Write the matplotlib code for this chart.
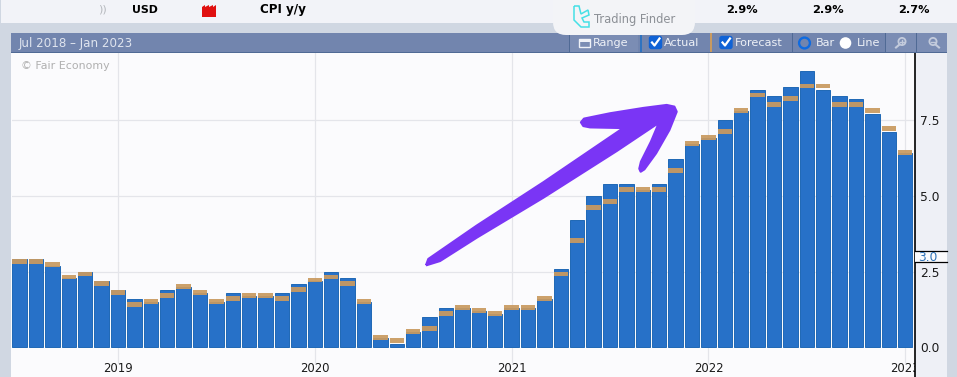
import matplotlib
matplotlib.use("Agg")
import matplotlib.pyplot as plt
from matplotlib.patches import Rectangle, PathPatch, Circle, FancyBboxPatch
from matplotlib.path import Path

W, H = 957, 377
plt.rcParams['font.family'] = ['DejaVu Sans']

# ---- data ----
date_range = "Jul 2018 – Jan 2023"
actual = [2.9, 2.9, 2.7, 2.3, 2.5, 2.2, 1.9, 1.6, 1.5, 1.9, 2.0, 1.8, 1.5, 1.8, 1.7, 1.7, 1.8, 2.1,
          2.2, 2.5, 2.3, 1.5, 0.3, 0.1, 0.5, 1.0, 1.3, 1.3, 1.2, 1.1, 1.3, 1.3, 1.6, 2.6, 4.2, 5.0,
          5.4, 5.4, 5.2, 5.4, 6.2, 6.7, 6.9, 7.5, 7.8, 8.5, 8.3, 8.6, 9.1, 8.5, 8.3, 8.2, 7.7, 7.1, 6.4]
forecast = [2.9, 2.9, 2.8, 2.4, 2.5, 2.2, 1.9, 1.5, 1.6, 1.8, 2.1, 1.9, 1.6, 1.7, 1.8, 1.8, 1.7, 2.0,
            2.3, 2.4, 2.2, 1.6, 0.4, 0.3, 0.6, 0.7, 1.2, 1.4, 1.3, 1.2, 1.4, 1.4, 1.7, 2.5, 3.6, 4.7,
            4.9, 5.3, 5.3, 5.3, 5.9, 6.8, 7.0, 7.2, 7.9, 8.4, 8.1, 8.3, 8.7, 8.7, 8.1, 8.1, 7.9, 7.3, 6.5]
year_ticks = [6, 18, 30, 42, 54]
year_labels = ["2019", "2020", "2021", "2022", "2023"]
y_ticks = [0.0, 2.5, 5.0, 7.5]
current_value = 3.0
row_values = ["2.9%", "2.9%", "2.7%"]

# ---- figure ----
fig = plt.figure(figsize=(W / 100, H / 100), dpi=100, facecolor="#d0d7e2")

def px_axes(z):
    a = fig.add_axes([0, 0, 1, 1], zorder=z)
    a.set_xlim(0, W)
    a.set_ylim(H, 0)
    a.axis("off")
    a.patch.set_alpha(0)
    return a

bg = px_axes(0)
fg = px_axes(2)

def rect(a, x0, y0, x1, y1, c, z=1):
    a.add_patch(Rectangle((x0, y0), x1 - x0, y1 - y0, fc=c, ec="none", zorder=z))

rect(bg, 1, 0, W, 23, "#f2f3f8")
rect(bg, 11, 53, 915, H, "#fbfbfd")
rect(bg, 915, 53, 947, H, "#eef0f6")

# ---- data axes ----
L, R, T, B = 12.0, 915.0, 53.0, 377.0
step, ppu, y0px = 16.4, 30.33, 347.4
ax = fig.add_axes([L / W, 1 - B / H, (R - L) / W, (B - T) / H], zorder=1)
ax.patch.set_alpha(0)
ax.set_xlim((L - 19.6) / step, (R - 19.6) / step)
ax.set_ylim((y0px - B) / ppu, (y0px - T) / ppu)
for s in ("top", "left", "bottom"):
    ax.spines[s].set_visible(False)
ax.spines["right"].set_color("black")
ax.spines["right"].set_linewidth(1.2)

months = list(range(len(actual)))
ax.set_axisbelow(True)
ax.bar(months, actual, width=0.885, color="#2771c8", edgecolor="#1f68b5", linewidth=0.7, zorder=3)
band = 0.16
ax.bar(months, [band] * len(forecast), bottom=[f - band for f in forecast], width=0.89,
       color="#c99a60", alpha=0.93, linewidth=0, zorder=4)

ax.yaxis.tick_right()
ax.set_yticks(y_ticks)
ax.set_yticklabels([f"{v:.1f}" for v in y_ticks], fontsize=8.8, color="#1a1a1a")
ax.tick_params(axis="y", length=0, pad=3.5)
ax.set_xticks(year_ticks)
ax.set_xticklabels(year_labels, fontsize=8.4, color="#1a1a1a")
ax.tick_params(axis="x", length=0, pad=-10.5)
for lab in ax.get_xticklabels():
    lab.set_clip_on(True)
    lab.set_clip_box(ax.bbox)
for v in y_ticks[1:]:
    ax.axhline(v, color="#e4e5ea", lw=0.9, zorder=1)
for v in year_ticks:
    ax.plot([v, v], [(y0px - 363) / ppu, (y0px - T) / ppu], color="#e4e5ea", lw=0.9, zorder=1)

# current-value marker on the right rail
cy = y0px - current_value * ppu + 0.5
rect(fg, 915, cy - 5.5, 947, cy + 5.5, "#fbfbfd", 2)
fg.plot([915, 947], [cy - 5.5, cy - 5.5], color="black", lw=0.9, zorder=3)
fg.plot([915, 947], [cy + 5.5, cy + 5.5], color="black", lw=0.9, zorder=3)
fg.text(928, cy + 0.3, f"{current_value:.1f}", color="#2f73b8", fontsize=8.8, ha="center", va="center", zorder=4)

# ---- top table row ----
tk = dict(va="center", color="black", fontweight="bold")
fg.text(132, 10, "USD", fontsize=7.9, **tk)
fg.text(260, 10, "CPI y/y", fontsize=8.6, **tk)
for xv, s in zip([742, 828, 914], row_values):
    fg.text(xv, 10, s, fontsize=8.2, ha="center", **tk)
fg.text(102, 9.5, "))", fontsize=8, color="#b5b8bd", ha="center", va="center")
fg.add_patch(PathPatch(Path([(202, 17), (202, 7), (205, 5), (205, 7), (209, 5), (209, 7), (213, 5), (213, 7),
                             (216, 5), (216, 17), (202, 17)]), fc="#e01010", ec="none"))

# ---- header bar ----
rect(fg, 11, 33, 947, 52, "#7285ae", 1)
rect(fg, 11, 52, 947, 53, "#506a95", 1)
hk = dict(color="#eef1f7", va="center", fontsize=8.1, zorder=3)
fg.text(19, 43, date_range, color="#dfe4ee", va="center", fontsize=8.6, zorder=3)
fg.text(21, 66, "© Fair Economy", color="#b0b0b0", va="center", fontsize=7.9, zorder=3)
rect(fg, 570, 33, 638, 52, "#7b8db4", 2)
rect(fg, 885, 33, 947, 52, "#7b8db4", 2)
for x in (569, 792, 885, 916):
    rect(fg, x, 33, x + 0.8, 52, "#506a95", 3)
rect(fg, 639.5, 33, 642, 52, "#2f73c0", 3)
rect(fg, 709.5, 33, 712, 52, "#c99a60", 3)
fg.text(593, 43, "Range", **hk)
fg.text(664, 43, "Actual", **hk)
fg.text(735, 43, "Forecast", **hk)
fg.text(816, 43, "Bar", **hk)
fg.text(857, 43, "Line", **hk)
# calendar icon
fg.add_patch(Rectangle((579, 39), 10.5, 8, fc="none", ec="#eef1f7", lw=1, zorder=3))
rect(fg, 579, 39, 589.5, 42, "#eef1f7", 3)
# check boxes
for x in (649, 719.5):
    fg.add_patch(FancyBboxPatch((x + 0.5, 36.5), 12, 12, boxstyle="round,pad=0,rounding_size=2", fc="#0f62d6", ec="#0f62d6", lw=1, zorder=3))
    fg.plot([x + 3, x + 5.5, x + 10.5], [42.5, 45.5, 38.5], color="white", lw=1.6, zorder=4)
# radio buttons
fg.add_patch(Circle((804.5, 43), 5.4, fc="#7285ae", ec="#0f6be0", lw=1.7, zorder=3))
fg.add_patch(Circle((845.5, 43), 5.8, fc="white", ec="none", zorder=3))
# zoom icons
for x, plus in ((902, True), (933, False)):
    fg.add_patch(Circle((x, 41.5), 3.6, fc="none", ec="#c3cbdc", lw=1.3, zorder=3))
    fg.plot([x - 2, x + 2], [41.5, 41.5], color="#c3cbdc", lw=1, zorder=3)
    if plus:
        fg.plot([x, x], [39.5, 43.5], color="#c3cbdc", lw=1, zorder=3)
        fg.plot([x - 2.5, x - 6], [44.5, 47.5], color="#c3cbdc", lw=1.5, zorder=3)
    else:
        fg.plot([x + 2.5, x + 6], [44.5, 47.5], color="#c3cbdc", lw=1.5, zorder=3)

# ---- watermark ----
fg.add_patch(FancyBboxPatch((553, -20), 142, 55, boxstyle="round,pad=0,rounding_size=13", fc="#f3f4f7", ec="none", zorder=5))
logo = [(574, 6), (579, 6), (581, 14), (588, 10), (589, 15), (582, 18), (584, 22), (589, 22), (589, 27), (581, 27), (574, 20), (574, 6)]
fg.add_patch(PathPatch(Path(logo), fc="none", ec="#45e0e6", lw=1.1, zorder=6))
fg.text(594, 19, "Trading Finder", color="#8c9096", fontsize=8.3, va="center", zorder=6)

# ---- hand-drawn arrow annotation ----
zoom_pts = [(48, 526), (55, 507), (200, 407), (400, 277), (640, 114), (540, 112), (520, 108), (513, 97), (522, 86),
            (600, 70), (700, 54), (770, 45), (793, 50), (800, 65), (778, 120), (738, 190), (703, 238), (692, 245),
            (688, 236), (693, 215), (723, 155), (747, 98), (620, 183), (400, 323), (200, 443), (90, 513), (48, 526)]
arrow_px = [(410 + x / 3, 90 + y / 3) for x, y in zoom_pts]
fg.add_patch(PathPatch(Path(arrow_px), fc="#7a35f5", ec="#7a35f5", lw=1.6, joinstyle="round", zorder=7))

fig.savefig("out.png", dpi=100, facecolor=fig.get_facecolor())
